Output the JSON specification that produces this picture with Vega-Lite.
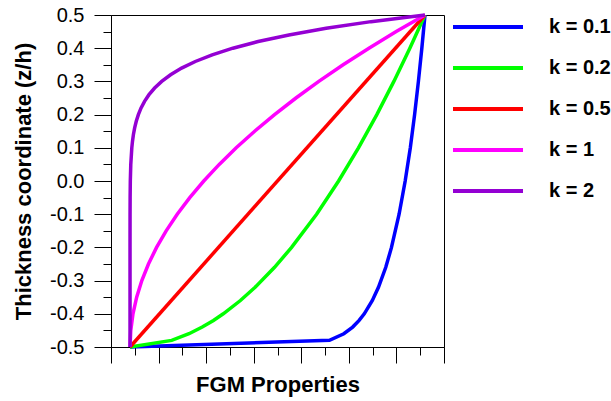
{
  "$schema": "https://vega.github.io/schema/vega-lite/v6.json",
  "width": 333,
  "height": 332,
  "autosize": {"type": "none"},
  "padding": {"left": 111, "top": 15, "right": 167, "bottom": 54},
  "background": "white",
  "config": {
    "font": "Liberation Sans",
    "view": {"stroke": "black", "strokeWidth": 1},
    "axis": {"domainColor": "black", "tickColor": "black", "labelColor": "black", "titleColor": "black", "grid": false, "tickWidth": 1, "domainWidth": 1}
  },
  "data": {
    "values": [
      {"k": "k = 0.1", "z": -0.5, "E": 70},
      {"k": "k = 0.1", "z": -0.48, "E": 279.6},
      {"k": "k = 0.1", "z": -0.46, "E": 294.7},
      {"k": "k = 0.1", "z": -0.44, "E": 304.0},
      {"k": "k = 0.1", "z": -0.42, "E": 310.8},
      {"k": "k = 0.1", "z": -0.4, "E": 316.2},
      {"k": "k = 0.1", "z": -0.36, "E": 324.7},
      {"k": "k = 0.1", "z": -0.32, "E": 331.1},
      {"k": "k = 0.1", "z": -0.26, "E": 338.8},
      {"k": "k = 0.1", "z": -0.2, "E": 344.8},
      {"k": "k = 0.1", "z": -0.1, "E": 352.8},
      {"k": "k = 0.1", "z": 0, "E": 359.2},
      {"k": "k = 0.1", "z": 0.1, "E": 364.6},
      {"k": "k = 0.1", "z": 0.2, "E": 369.1},
      {"k": "k = 0.1", "z": 0.3, "E": 373.1},
      {"k": "k = 0.1", "z": 0.4, "E": 376.7},
      {"k": "k = 0.1", "z": 0.5, "E": 380},
      {"k": "k = 0.2", "z": -0.5, "E": 70},
      {"k": "k = 0.2", "z": -0.48, "E": 113.8},
      {"k": "k = 0.2", "z": -0.46, "E": 132.0},
      {"k": "k = 0.2", "z": -0.44, "E": 145.9},
      {"k": "k = 0.2", "z": -0.42, "E": 157.7},
      {"k": "k = 0.2", "z": -0.4, "E": 168.0},
      {"k": "k = 0.2", "z": -0.36, "E": 186.0},
      {"k": "k = 0.2", "z": -0.32, "E": 201.5},
      {"k": "k = 0.2", "z": -0.26, "E": 221.9},
      {"k": "k = 0.2", "z": -0.2, "E": 239.8},
      {"k": "k = 0.2", "z": -0.1, "E": 266.1},
      {"k": "k = 0.2", "z": 0, "E": 289.2},
      {"k": "k = 0.2", "z": 0.1, "E": 310.1},
      {"k": "k = 0.2", "z": 0.2, "E": 329.4},
      {"k": "k = 0.2", "z": 0.3, "E": 347.3},
      {"k": "k = 0.2", "z": 0.4, "E": 364.1},
      {"k": "k = 0.2", "z": 0.5, "E": 380},
      {"k": "k = 0.5", "z": -0.5, "E": 70},
      {"k": "k = 0.5", "z": 0.5, "E": 380},
      {"k": "k = 1", "z": -0.5, "E": 70},
      {"k": "k = 1", "z": -0.45, "E": 70.78},
      {"k": "k = 1", "z": -0.4, "E": 73.1},
      {"k": "k = 1", "z": -0.35, "E": 76.98},
      {"k": "k = 1", "z": -0.3, "E": 82.4},
      {"k": "k = 1", "z": -0.25, "E": 89.38},
      {"k": "k = 1", "z": -0.2, "E": 97.9},
      {"k": "k = 1", "z": -0.15, "E": 107.98},
      {"k": "k = 1", "z": -0.1, "E": 119.6},
      {"k": "k = 1", "z": -0.05, "E": 132.78},
      {"k": "k = 1", "z": 0, "E": 147.5},
      {"k": "k = 1", "z": 0.05, "E": 163.78},
      {"k": "k = 1", "z": 0.1, "E": 181.6},
      {"k": "k = 1", "z": 0.15, "E": 200.98},
      {"k": "k = 1", "z": 0.2, "E": 221.9},
      {"k": "k = 1", "z": 0.25, "E": 244.38},
      {"k": "k = 1", "z": 0.3, "E": 268.4},
      {"k": "k = 1", "z": 0.35, "E": 293.98},
      {"k": "k = 1", "z": 0.4, "E": 321.1},
      {"k": "k = 1", "z": 0.45, "E": 349.78},
      {"k": "k = 1", "z": 0.5, "E": 380},
      {"k": "k = 2", "z": -0.5, "E": 70},
      {"k": "k = 2", "z": -0.4, "E": 70},
      {"k": "k = 2", "z": -0.3, "E": 70},
      {"k": "k = 2", "z": -0.2, "E": 70.0},
      {"k": "k = 2", "z": -0.1, "E": 70.03},
      {"k": "k = 2", "z": -0.05, "E": 70.11},
      {"k": "k = 2", "z": 0, "E": 70.3},
      {"k": "k = 2", "z": 0.05, "E": 70.79},
      {"k": "k = 2", "z": 0.1, "E": 71.87},
      {"k": "k = 2", "z": 0.12, "E": 72.6},
      {"k": "k = 2", "z": 0.14, "E": 73.57},
      {"k": "k = 2", "z": 0.16, "E": 74.86},
      {"k": "k = 2", "z": 0.18, "E": 76.55},
      {"k": "k = 2", "z": 0.2, "E": 78.76},
      {"k": "k = 2", "z": 0.22, "E": 81.61},
      {"k": "k = 2", "z": 0.24, "E": 85.26},
      {"k": "k = 2", "z": 0.26, "E": 89.93},
      {"k": "k = 2", "z": 0.28, "E": 95.84},
      {"k": "k = 2", "z": 0.3, "E": 103.29},
      {"k": "k = 2", "z": 0.32, "E": 112.61},
      {"k": "k = 2", "z": 0.34, "E": 124.22},
      {"k": "k = 2", "z": 0.36, "E": 138.6},
      {"k": "k = 2", "z": 0.38, "E": 156.34},
      {"k": "k = 2", "z": 0.4, "E": 178.09},
      {"k": "k = 2", "z": 0.42, "E": 204.66},
      {"k": "k = 2", "z": 0.44, "E": 236.97},
      {"k": "k = 2", "z": 0.46, "E": 276.1},
      {"k": "k = 2", "z": 0.48, "E": 323.29},
      {"k": "k = 2", "z": 0.5, "E": 380}
    ]
  },
  "mark": {"type": "line", "strokeWidth": 3.5, "clip": false},
  "encoding": {
    "x": {
      "field": "E",
      "type": "quantitative",
      "scale": {"domain": [50, 400], "nice": false, "zero": false},
      "axis": {
        "title": "FGM Properties",
        "values": [50, 75, 100, 125, 150, 175, 200, 225, 250, 275, 300, 325, 350, 375, 400],
        "labels": false,
        "tickSize": {"condition": {"test": "datum.value % 50 === 0", "value": 16}, "value": 8},
        "titleFont": "Liberation Sans",
        "titleFontSize": 22,
        "titleFontWeight": "bold",
        "titlePadding": 11
      }
    },
    "y": {
      "field": "z",
      "type": "quantitative",
      "scale": {"domain": [-0.5, 0.5], "nice": false, "zero": false},
      "axis": {
        "title": "Thickness coordinate (z/h)",
        "values": [-0.5, -0.45, -0.4, -0.35, -0.3, -0.25, -0.2, -0.15, -0.1, -0.05, 0, 0.05, 0.1, 0.15, 0.2, 0.25, 0.3, 0.35, 0.4, 0.45, 0.5],
        "labelExpr": "abs(datum.value * 10 - round(datum.value * 10)) < 0.01 ? replace(format(datum.value, '.1f'), '\u2212', '-') : ''",
        "tickSize": {"condition": {"test": "abs(datum.value * 10 - round(datum.value * 10)) < 0.01", "value": 17}, "value": 8},
        "labelFont": "Liberation Sans",
        "labelFontSize": 20,
        "labelPadding": 10,
        "labelFlush": false,
        "labelOverlap": false,
        "titleFont": "Liberation Sans",
        "titleFontSize": 22,
        "titleFontWeight": "bold",
        "titlePadding": 14
      }
    },
    "color": {
      "field": "k",
      "type": "nominal",
      "scale": {
        "domain": ["k = 0.1", "k = 0.2", "k = 0.5", "k = 1", "k = 2"],
        "range": ["#0000ff", "#00ff00", "#ff0000", "#ff00ff", "#9400d3"]
      },
      "legend": {
        "title": null,
        "orient": "none",
        "legendX": 340,
        "legendY": 2,
        "padding": 0,
        "symbolType": "stroke",
        "symbolSize": 4900,
        "symbolStrokeWidth": 4,
        "clipHeight": 20,
        "rowPadding": 21,
        "labelOffset": 24,
        "labelFont": "Liberation Sans",
        "labelFontSize": 20,
        "labelFontWeight": "bold",
        "labelColor": "black"
      }
    },
    "order": {"field": "z", "type": "quantitative"}
  }
}
